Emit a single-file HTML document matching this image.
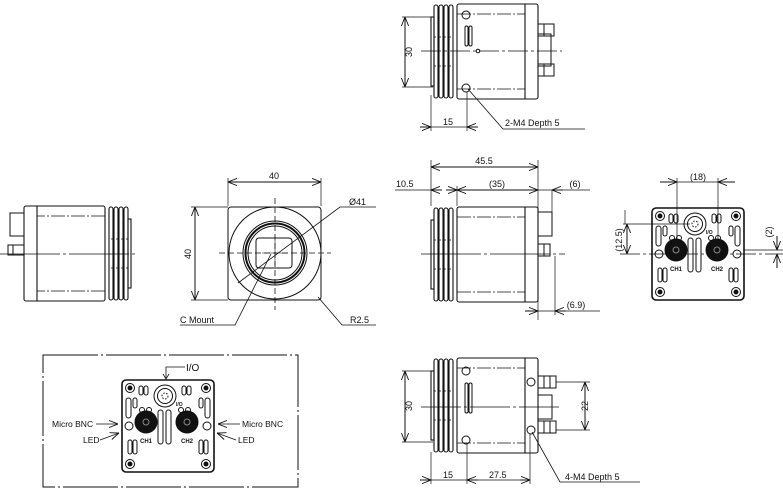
<!DOCTYPE html>
<html><head><meta charset="utf-8"><style>
html,body{margin:0;padding:0;background:#fff;width:783px;height:493px;overflow:hidden}
svg{display:block}
text{font-family:"Liberation Sans",sans-serif;font-size:9px;fill:#111}
</style></head><body>
<svg width="783" height="493" viewBox="0 0 783 493" xmlns="http://www.w3.org/2000/svg">
<defs>
<marker id="a" viewBox="0 0 10 10" refX="10" refY="5" markerWidth="9" markerHeight="9" orient="auto-start-reverse" markerUnits="userSpaceOnUse"><path d="M0,1 L10,5 L0,9" fill="none" stroke="#111" stroke-width="1"/></marker>
<g id="side" fill="none" stroke="#111" stroke-width="1.1">
<rect x="0" y="13" width="3" height="69"/>
<rect x="3" y="1" width="4" height="93" rx="2"/><rect x="8" y="1" width="4" height="93" rx="2"/>
<rect x="13" y="1" width="4" height="93" rx="2"/><rect x="18" y="1" width="4" height="93" rx="2"/>
<rect x="26" y="0" width="81" height="95" rx="2"/>
<line x1="94" y1="0" x2="94" y2="95"/>
<g stroke-width="0.8" stroke-dasharray="14 2 2 2"><line x1="26" y1="10" x2="94" y2="10"/><line x1="26" y1="85" x2="94" y2="85"/></g>
<g stroke-width="0.8" stroke-dasharray="2 3"><line x1="3" y1="33" x2="22" y2="33"/><line x1="3" y1="62" x2="22" y2="62"/></g>
</g>
<g id="panel" fill="none" stroke="#111" stroke-width="1">
<rect x="0" y="0" width="92" height="92" rx="4" stroke-width="1.6"/>
<circle cx="8" cy="8" r="4.5"/><circle cx="8" cy="8" r="2" fill="#111"/>
<circle cx="84" cy="8" r="4.5"/><circle cx="84" cy="8" r="2" fill="#111"/>
<circle cx="8" cy="84" r="4.5"/><circle cx="8" cy="84" r="2" fill="#111"/>
<circle cx="84" cy="84" r="4.5"/><circle cx="84" cy="84" r="2" fill="#111"/>
<circle cx="43" cy="16" r="11"/><circle cx="43" cy="16" r="7.5"/><circle cx="43" cy="16" r="3" stroke-dasharray="1.5 1.5"/>
<circle cx="24" cy="42" r="11" fill="#111"/><circle cx="24" cy="42" r="3" stroke="#888"/>
<circle cx="65" cy="42" r="11" fill="#111"/><circle cx="65" cy="42" r="3" stroke="#888"/>
<rect x="17" y="6" width="4" height="9" rx="2"/><rect x="22" y="6" width="4" height="9" rx="2"/>
<rect x="60" y="6" width="4" height="9" rx="2"/><rect x="65" y="6" width="4" height="9" rx="2"/>
<rect x="4" y="18" width="5" height="20" rx="2.5"/><rect x="83" y="18" width="5" height="20" rx="2.5"/>
<rect x="11" y="18" width="4" height="10" rx="2"/><rect x="77" y="18" width="4" height="10" rx="2"/>
<circle cx="20" cy="30" r="2.5"/><circle cx="27" cy="30" r="2.5"/>
<circle cx="59" cy="30" r="2.5"/><circle cx="66" cy="30" r="2.5"/>
<rect x="36" y="30" width="5" height="34" rx="2.5"/><rect x="44" y="30" width="5" height="34" rx="2.5"/>
<circle cx="7" cy="46" r="4"/><circle cx="85" cy="46" r="4"/>
<rect x="6" y="60" width="4" height="14" rx="2"/><rect x="11" y="60" width="4" height="14" rx="2"/>
<rect x="77" y="60" width="4" height="14" rx="2"/><rect x="82" y="60" width="4" height="14" rx="2"/>
<text x="18" y="63" style="font-size:6px;font-weight:bold" stroke="none">CH1</text>
<text x="59" y="63" style="font-size:6px;font-weight:bold" stroke="none">CH2</text>
<text x="54" y="26" style="font-size:5px;font-weight:bold" stroke="none">I/O</text>
</g>
</defs>

<g fill="none" stroke="#111" stroke-width="1">
<use href="#side" transform="translate(431,4)"/>
<circle cx="466" cy="15" r="4"/><circle cx="466" cy="88" r="4"/>
<rect x="465" y="26" width="3" height="20" rx="1.5"/><rect x="469" y="26" width="3" height="20" rx="1.5"/>
<circle cx="478" cy="51" r="1.8"/>
<rect x="538" y="34" width="13" height="32"/>
<rect x="538" y="24" width="16" height="12"/><line x1="544" y1="24" x2="544" y2="36"/>
<rect x="538" y="64" width="16" height="12"/><line x1="544" y1="64" x2="544" y2="76"/>
<line x1="421" y1="51" x2="562" y2="51" stroke-width="0.8" stroke-dasharray="20 3 3 3"/>
<line x1="405" y1="17" x2="405" y2="87" marker-start="url(#a)" marker-end="url(#a)"/>
<line x1="402" y1="17" x2="433" y2="17" stroke-width="0.7"/><line x1="402" y1="87" x2="433" y2="87" stroke-width="0.7"/>
<line x1="431" y1="95" x2="431" y2="131" stroke-width="0.7"/><line x1="467" y1="92" x2="467" y2="131" stroke-width="0.7"/>
<line x1="420" y1="127" x2="431" y2="127" marker-end="url(#a)"/><line x1="478" y1="127" x2="467" y2="127" marker-end="url(#a)"/>
<line x1="431" y1="127" x2="467" y2="127" stroke-width="0.7"/>
<polyline points="468,89 503,129 585,129" stroke-width="0.8"/>

<use href="#side" transform="translate(431,207)"/>
<rect x="538" y="212" width="14" height="24"/>
<rect x="538" y="244" width="12" height="12"/><line x1="544" y1="244" x2="544" y2="256"/>
<line x1="421" y1="254" x2="565" y2="254" stroke-width="0.8" stroke-dasharray="60 3 3 3"/>
<line x1="431" y1="160" x2="431" y2="206" stroke-width="0.7"/>
<line x1="457" y1="186" x2="457" y2="206" stroke-width="0.7"/>
<line x1="538" y1="160" x2="538" y2="320" stroke-width="0.7"/>
<line x1="552" y1="190" x2="552" y2="212" stroke-width="0.7"/>
<line x1="555" y1="256" x2="555" y2="315" stroke-width="0.7"/>
<line x1="431" y1="167" x2="538" y2="167" marker-start="url(#a)" marker-end="url(#a)"/>
<line x1="395" y1="190" x2="431" y2="190" stroke-width="0.7"/>
<line x1="442" y1="190" x2="431" y2="190" marker-end="url(#a)"/><line x1="446" y1="190" x2="457" y2="190" marker-end="url(#a)"/>
<line x1="457" y1="190" x2="538" y2="190" marker-start="url(#a)" marker-end="url(#a)"/>
<line x1="538" y1="190" x2="590" y2="190" stroke-width="0.7"/><line x1="563" y1="190" x2="552" y2="190" marker-end="url(#a)"/>
<line x1="525" y1="311" x2="538" y2="311" marker-end="url(#a)"/>
<line x1="538" y1="311" x2="600" y2="311" stroke-width="0.7"/><line x1="566" y1="311" x2="555" y2="311" marker-end="url(#a)"/>

<use href="#side" transform="translate(131,206) scale(-1,1)"/>
<rect x="10" y="213" width="14" height="23"/>
<rect x="8" y="245" width="16" height="10"/><line x1="13" y1="245" x2="13" y2="255"/>
<line x1="0" y1="254" x2="137" y2="254" stroke-width="0.8" stroke-dasharray="60 3 3 3"/>

<rect x="228" y="207" width="93" height="93" rx="3"/>
<circle cx="275" cy="253" r="46"/>
<circle cx="275" cy="253" r="32"/><circle cx="275" cy="253" r="29.5" stroke-width="2"/><circle cx="275" cy="253" r="27"/>
<rect x="256" y="238" width="36" height="30" rx="3"/>
<line x1="262" y1="253" x2="288" y2="253" stroke-width="0.6"/><line x1="275" y1="240" x2="275" y2="266" stroke-width="0.6"/>
<line x1="275" y1="198" x2="275" y2="310" stroke-width="0.8" stroke-dasharray="6 3"/>
<line x1="219" y1="253" x2="331" y2="253" stroke-width="0.8" stroke-dasharray="6 3"/>
<line x1="228" y1="178" x2="228" y2="206" stroke-width="0.7"/><line x1="321" y1="178" x2="321" y2="206" stroke-width="0.7"/>
<line x1="228" y1="182" x2="321" y2="182" marker-start="url(#a)" marker-end="url(#a)"/>
<line x1="191" y1="207" x2="228" y2="207" stroke-width="0.7"/><line x1="191" y1="300" x2="228" y2="300" stroke-width="0.7"/>
<line x1="195" y1="207" x2="195" y2="300" marker-start="url(#a)" marker-end="url(#a)"/>
<polyline points="238,283 340,207 376,207" stroke-width="0.8"/>
<polyline points="271,254 235,325 180,325" stroke-width="0.8"/>
<polyline points="376,325 342,325 318,297" stroke-width="0.8"/>

<use href="#panel" transform="translate(652,208)"/>
<line x1="620" y1="254" x2="783" y2="254" stroke-width="0.8" stroke-dasharray="20 3 3 3"/>
<line x1="677" y1="178" x2="677" y2="240" stroke-width="0.7"/><line x1="718" y1="178" x2="718" y2="240" stroke-width="0.7"/>
<line x1="660" y1="182" x2="677" y2="182" marker-end="url(#a)"/><line x1="735" y1="182" x2="718" y2="182" marker-end="url(#a)"/>
<line x1="677" y1="182" x2="718" y2="182" stroke-width="0.7"/>
<line x1="623" y1="224" x2="690" y2="224" stroke-width="0.7"/>
<line x1="627" y1="224" x2="627" y2="254" marker-start="url(#a)" marker-end="url(#a)"/>
<line x1="625" y1="210" x2="625" y2="224" stroke-width="0.7"/>
<line x1="744" y1="250" x2="783" y2="250" stroke-width="0.7"/>
<line x1="777" y1="236" x2="777" y2="250" marker-end="url(#a)"/><line x1="777" y1="268" x2="777" y2="254" marker-end="url(#a)"/>

<use href="#side" transform="translate(431,358)"/>
<circle cx="466" cy="371" r="4"/><circle cx="466" cy="440" r="4"/>
<circle cx="531" cy="382" r="4"/><circle cx="531" cy="430" r="4"/>
<rect x="465" y="383" width="3" height="30" rx="1.5"/><rect x="469" y="383" width="3" height="30" rx="1.5"/>
<rect x="538" y="395" width="14" height="24"/>
<rect x="538" y="376" width="18" height="12"/><line x1="544" y1="376" x2="544" y2="388"/><line x1="550" y1="376" x2="550" y2="388"/>
<rect x="538" y="421" width="18" height="12"/><line x1="544" y1="421" x2="544" y2="433"/><line x1="550" y1="421" x2="550" y2="433"/>
<line x1="421" y1="407" x2="562" y2="407" stroke-width="0.8" stroke-dasharray="40 3 3 3"/>
<line x1="402" y1="371" x2="433" y2="371" stroke-width="0.7"/><line x1="402" y1="442" x2="433" y2="442" stroke-width="0.7"/>
<line x1="405" y1="371" x2="405" y2="442" marker-start="url(#a)" marker-end="url(#a)"/>
<line x1="556" y1="382" x2="590" y2="382" stroke-width="0.7"/><line x1="556" y1="430" x2="590" y2="430" stroke-width="0.7"/>
<line x1="585" y1="382" x2="585" y2="430" marker-start="url(#a)" marker-end="url(#a)"/>
<line x1="431" y1="452" x2="431" y2="484" stroke-width="0.7"/><line x1="467" y1="444" x2="467" y2="484" stroke-width="0.7"/><line x1="530" y1="434" x2="530" y2="484" stroke-width="0.7"/>
<line x1="420" y1="480" x2="431" y2="480" marker-end="url(#a)"/>
<line x1="431" y1="480" x2="530" y2="480" stroke-width="0.7"/>
<line x1="478" y1="480" x2="467" y2="480" marker-end="url(#a)"/><line x1="520" y1="480" x2="530" y2="480" marker-end="url(#a)"/>
<polyline points="532,432 560,482 640,482" stroke-width="0.8"/>

<rect x="43" y="355" width="255" height="132" stroke-dasharray="55 3 2 3"/>
<use href="#panel" transform="translate(122,380)"/>
<polyline points="185,367 166,367 166,378" stroke-width="0.8"/>
<path d="M163,374 L166,379 L169,374" stroke-width="0.8"/>
<line x1="96" y1="424" x2="118" y2="424" marker-end="url(#a)" stroke-width="0.8"/>
<line x1="100" y1="440" x2="119" y2="433" marker-end="url(#a)" stroke-width="0.8"/>
<line x1="240" y1="424" x2="218" y2="424" marker-end="url(#a)" stroke-width="0.8"/>
<line x1="236" y1="440" x2="217" y2="433" marker-end="url(#a)" stroke-width="0.8"/>
</g>

<g>
<text x="408" y="56" transform="rotate(-90 408 52)" text-anchor="middle">30</text>
<text x="443" y="125">15</text>
<text x="505" y="126">2-M4 Depth 5</text>
<text x="484" y="164" text-anchor="middle">45.5</text>
<text x="396" y="187">10.5</text>
<text x="497" y="187" text-anchor="middle">(35)</text>
<text x="575" y="187" text-anchor="middle">(6)</text>
<text x="576" y="308" text-anchor="middle">(6.9)</text>
<text x="274" y="179" text-anchor="middle">40</text>
<text x="191" y="254" transform="rotate(-90 191 254)" text-anchor="middle">40</text>
<text x="349" y="205">Ø41</text>
<text x="180" y="323">C Mount</text>
<text x="350" y="323">R2.5</text>
<text x="698" y="180" text-anchor="middle">(18)</text>
<text x="622" y="240" transform="rotate(-90 622 240)" text-anchor="middle">(12.5)</text>
<text x="772" y="232" transform="rotate(-90 772 232)" text-anchor="middle">(2)</text>
<text x="408" y="410" transform="rotate(-90 408 406)" text-anchor="middle">30</text>
<text x="588" y="406" transform="rotate(-90 588 406)" text-anchor="middle">22</text>
<text x="443" y="478">15</text>
<text x="489" y="478">27.5</text>
<text x="565" y="480">4-M4 Depth 5</text>
<text x="186" y="371" style="font-size:10px">I/O</text>
<text x="52" y="427" style="font-size:8.5px">Micro BNC</text>
<text x="83" y="443" style="font-size:8.5px">LED</text>
<text x="242" y="427" style="font-size:8.5px">Micro BNC</text>
<text x="238" y="443" style="font-size:8.5px">LED</text>
</g>
</svg>
</body></html>
